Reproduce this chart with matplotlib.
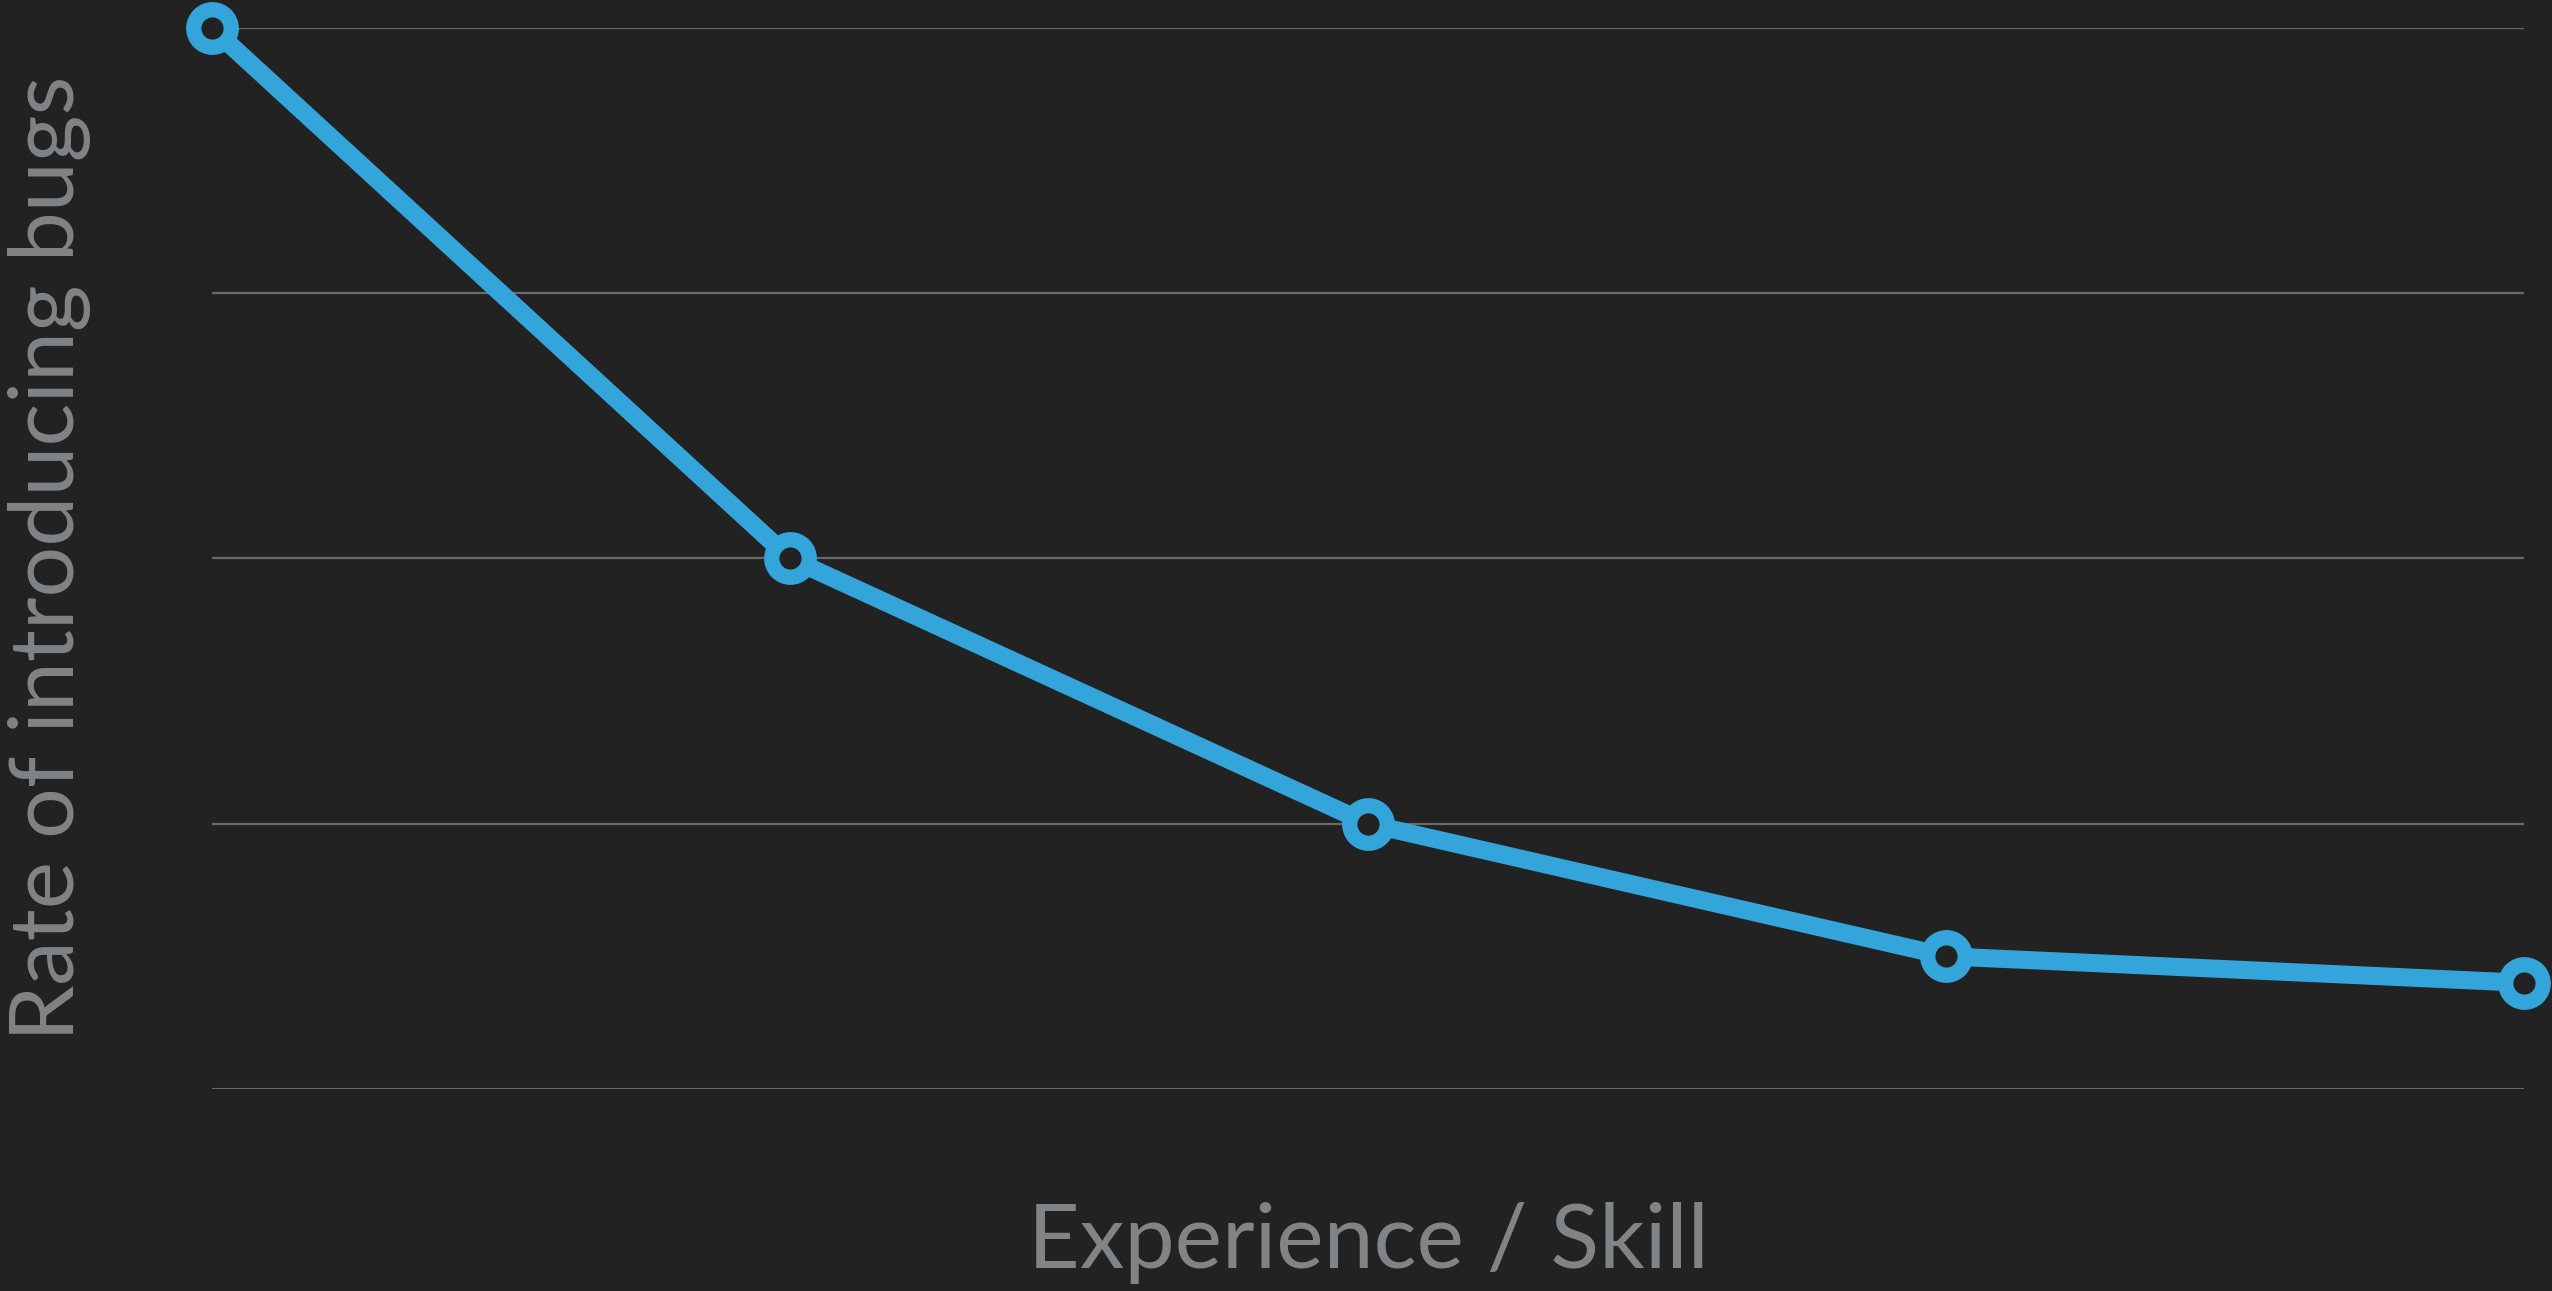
"""Rate of introducing bugs vs experience / skill"""

import matplotlib
matplotlib.use("Agg")
import matplotlib.pyplot as plt

# data
skill = [0, 1, 2, 3, 4]
bug_rate = [4.0, 2.0, 1.0, 0.5, 0.4]
grid_levels = [0, 1, 2, 3, 4]

BG = "#222222"
BLUE = "#34a5db"
TEXT = "#808486"
GRID = "#6a6a6a"

plt.rcParams["font.family"] = ["Lato", "DejaVu Sans"]

fig = plt.figure(figsize=(25.52, 12.91), dpi=100, facecolor=BG)
ax = fig.add_axes([0.0829, 0.1565, 0.9892 - 0.0829, 0.9785 - 0.1565])
ax.set_facecolor(BG)

for level in grid_levels:
    ax.axhline(level, color=GRID, lw=1.6, zorder=1)

ax.plot(skill, bug_rate, color=BLUE, lw=13, solid_capstyle="butt",
        marker="o", ms=27, mew=11, mec=BLUE, mfc=BG, clip_on=False, zorder=3)

ax.set_xlim(0, 4)
ax.set_ylim(0, 4)
ax.set_xticks([])
ax.set_yticks([])
for side in ax.spines.values():
    side.set_visible(False)

ax.set_xlabel("Experience / Skill", fontsize=64.5, color=TEXT, va="baseline")
ax.xaxis.set_label_coords(0.5, -0.1687)
ax.set_ylabel("Rate of introducing bugs", fontsize=64.5, color=TEXT, va="center")
ax.yaxis.set_label_coords(-0.0700, 0.5)

fig.savefig("out.png", dpi=100, facecolor=BG)
